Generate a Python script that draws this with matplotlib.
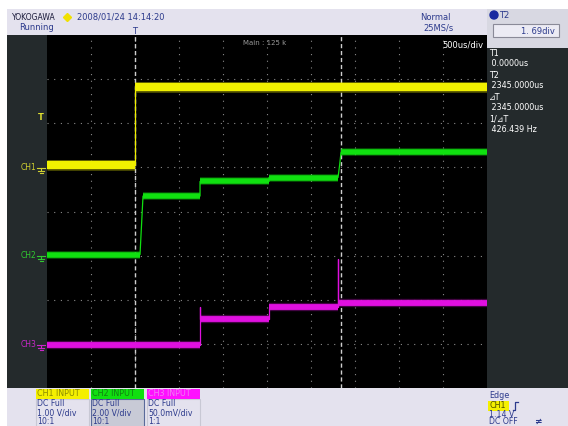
import matplotlib.pyplot as plt
from matplotlib.patches import Rectangle, Circle

# Oscilloscope settings
time_div = 500.0             # us/div
t_left, t_right = -1000.0, 4000.0
t1_cursor = 0.0
t2_cursor = 2345.0

# CH1 (1.00 V/div, ground at +1 div)
ch1_scale, ch1_offset = 1.00, 1.0
ch1_t = [-1000, 0, 0, 4000]
ch1_v = [0.05, 0.05, 1.83, 1.83]

# CH2 (2.00 V/div, ground at -1 div)
ch2_scale, ch2_offset = 2.00, -1.0
ch2_t = [-1000, 57, 91, 739, 739, 1523, 1523, 2307, 2325, 2341, 4000]
ch2_v = [0.05, 0.05, 2.70, 2.70, 3.36, 3.36, 3.54, 3.54, 4.10, 4.68, 4.68]

# CH3 (50.0 mV/div, ground at -3.03 div)
ch3_scale, ch3_offset = 0.050, -3.03
ch3_t = [-1000, 739, 739, 739, 1523, 1523, 2307, 2307, 2307, 2341, 4000]
ch3_v = [0.0, 0.0, 0.043, 0.030, 0.030, 0.043, 0.043, 0.098, 0.048, 0.048, 0.048]

trig_level = 1.14

navy = '#2c3a8c'
lav = '#e4e2ee'
dark = '#242a2c'


def to_div(vals, scale, offset):
    return [v / scale + offset for v in vals]


def draw_trace(ax, t, v, scale, offset, color, lw):
    y = to_div(v, scale, offset)
    # thin line for the edges
    ax.plot(t, y, color=color, lw=0.9)
    # noisy band on the flat parts
    for i in range(len(t) - 1):
        if v[i] == v[i + 1] and t[i] != t[i + 1]:
            ax.plot([t[i], t[i + 1]], [y[i], y[i + 1]], color=color, lw=lw + 1.8,
                    alpha=0.3, solid_capstyle='butt')
            ax.plot([t[i], t[i + 1]], [y[i], y[i + 1]], color=color, lw=lw,
                    solid_capstyle='butt')


fig = plt.figure(figsize=(5.68, 4.26), dpi=100, facecolor='white')
bg = fig.add_axes([0, 0, 1, 1])
bg.set_xlim(0, 568)
bg.set_ylim(426, 0)
bg.axis('off')

# panels
bg.add_patch(Rectangle((7, 9), 480, 26, color=lav, lw=0))
bg.add_patch(Rectangle((487, 9), 81, 39, color='#d8d8e2', lw=0))
bg.add_patch(Rectangle((7, 35), 40, 353, color=dark, lw=0))
bg.add_patch(Rectangle((487, 48), 81, 340, color=dark, lw=0))
bg.add_patch(Rectangle((7, 388), 561, 38, color=lav, lw=0))

# header
bg.text(12, 17, 'YOKOGAWA', fontsize=5.5, color='#1a1a3a', va='center')
bg.plot([67], [17], marker='D', ms=4.5, color='#f0e000', mec='#f0e000')
bg.text(77, 17, '2008/01/24 14:14:20', fontsize=6, color=navy, va='center')
bg.text(19, 28, 'Running', fontsize=6, color=navy, va='center')
bg.text(132, 31, 'T', fontsize=6, color=navy, va='center')
bg.text(420, 17, 'Normal', fontsize=6, color=navy, va='center')
bg.text(423, 28, '25MS/s', fontsize=6, color=navy, va='center')
bg.add_patch(Circle((494, 15), 4, color='#1a2aa0'))
bg.text(499, 15, 'T2', fontsize=6, color=navy, va='center')
bg.add_patch(Rectangle((493, 24), 66, 13, facecolor='#ecebf4', edgecolor='#8a8a98', lw=0.8))
bg.text(555, 31, '1. 69div', fontsize=6, color=navy, va='center', ha='right')

# right readout
readout = ['T1', ' 0.0000us', 'T2', ' 2345.0000us', '\u22bfT', ' 2345.0000us',
           '1/\u22bfT', ' 426.439 Hz']
for i, s in enumerate(readout):
    bg.text(489, 53 + i * 11, s, fontsize=5.8, color='white', va='center',
            family=['DejaVu Sans'])

# channel labels on the left strip
labels = [('CH1', '#d0d030', 1.0), ('CH2', '#30c830', -1.0), ('CH3', '#c828c8', -3.03)]
for name, col, off in labels:
    yy = 211.5 - off * 44
    bg.text(21, yy, name, fontsize=5.5, color=col, va='center')
    bg.plot([37, 45], [yy, yy], color=col, lw=0.8)
    bg.plot([41, 41], [yy, yy + 3], color=col, lw=0.8)
    bg.plot([38, 44], [yy + 3, yy + 3], color=col, lw=0.8)
    bg.plot([39.5, 42.5], [yy + 5, yy + 5], color=col, lw=0.8)
ty = 211.5 - (trig_level / ch1_scale + ch1_offset) * 44
bg.text(38, ty, 'T', fontsize=6, color='#e0e030', va='center', fontweight='bold')

# bottom channel boxes
boxes = [(36, 'CH1 INPUT', '#f4f000', '#8a8a00', ['DC Full', '1.00 V/div', '10:1'], lav, '#c8c8d4'),
         (91, 'CH2 INPUT', '#10e010', '#108010', ['DC Full', '2.00 V/div', '10:1'], '#c8cad6', '#5a6a9a'),
         (147, 'CH3 INPUT', '#ff10ff', '#f080f0', ['DC Full', '50.0mV/div', '1:1'], lav, '#c8c8d4')]
for x0, title, tcol, tfc, lines, fill, edge in boxes:
    bg.add_patch(Rectangle((x0, 399), 53, 30, facecolor=fill, edgecolor=edge, lw=0.8))
    bg.add_patch(Rectangle((x0, 389), 53, 10, color=tcol, lw=0))
    bg.text(x0 + 1, 394, title, fontsize=5.8, color=tfc, va='center')
    for j, s in enumerate(lines):
        bg.text(x0 + 1, 403.5 + j * 9, s, fontsize=5.6, color=navy, va='center')

bg.text(489, 396, 'Edge', fontsize=5.8, color=navy, va='center')
bg.add_patch(Rectangle((488, 401), 21, 10, color='#f4f000', lw=0))
bg.text(489, 406, 'CH1', fontsize=5.8, color='#505000', va='center')
bg.plot([513, 515, 515, 518], [410, 410, 402, 402], color=navy, lw=0.9)
bg.text(489, 414.5, '1.14 V', fontsize=5.6, color=navy, va='center')
bg.text(489, 422, 'DC OFF', fontsize=5.6, color=navy, va='center')
bg.text(534, 421, '\u2260', fontsize=6.5, color=navy, va='center', fontweight='bold')

# screen
ax = fig.add_axes([47 / 568, 38 / 426, 440 / 568, 353 / 426])
ax.set_facecolor('black')
ax.set_xlim(t_left, t_right)
ax.set_ylim(-4, 4)
ax.set_xticks([])
ax.set_yticks([])
for s in ax.spines.values():
    s.set_visible(False)

for k in range(1, 10):
    ax.axvline(t_left + k * time_div, color='#8a8a8a', lw=0.8, ls=(0, (1, 5)))
for k in range(-3, 4):
    ax.axhline(k, color='#8a8a8a', lw=0.8, ls=(0, (1, 5)))

ax.axvline(t1_cursor, color='#cfcfcf', lw=1.0, ls=(0, (3, 2)))
ax.axvline(t2_cursor, color='#cfcfcf', lw=1.0, ls=(0, (3, 2)))

draw_trace(ax, ch3_t, ch3_v, ch3_scale, ch3_offset, '#e010e0', 4.2)
draw_trace(ax, ch2_t, ch2_v, ch2_scale, ch2_offset, '#10e010', 4.0)
draw_trace(ax, ch1_t, ch1_v, ch1_scale, ch1_offset, '#f0f000', 6.0)

ax.text(0.445, 0.985, 'Main : 125 k', transform=ax.transAxes, fontsize=5, color='#9a9a9a',
        ha='left', va='top')
ax.text(0.993, 0.985, '500us/div', transform=ax.transAxes, fontsize=6, color='white',
        ha='right', va='top')

fig.savefig('out.png', dpi=100, facecolor='white')
